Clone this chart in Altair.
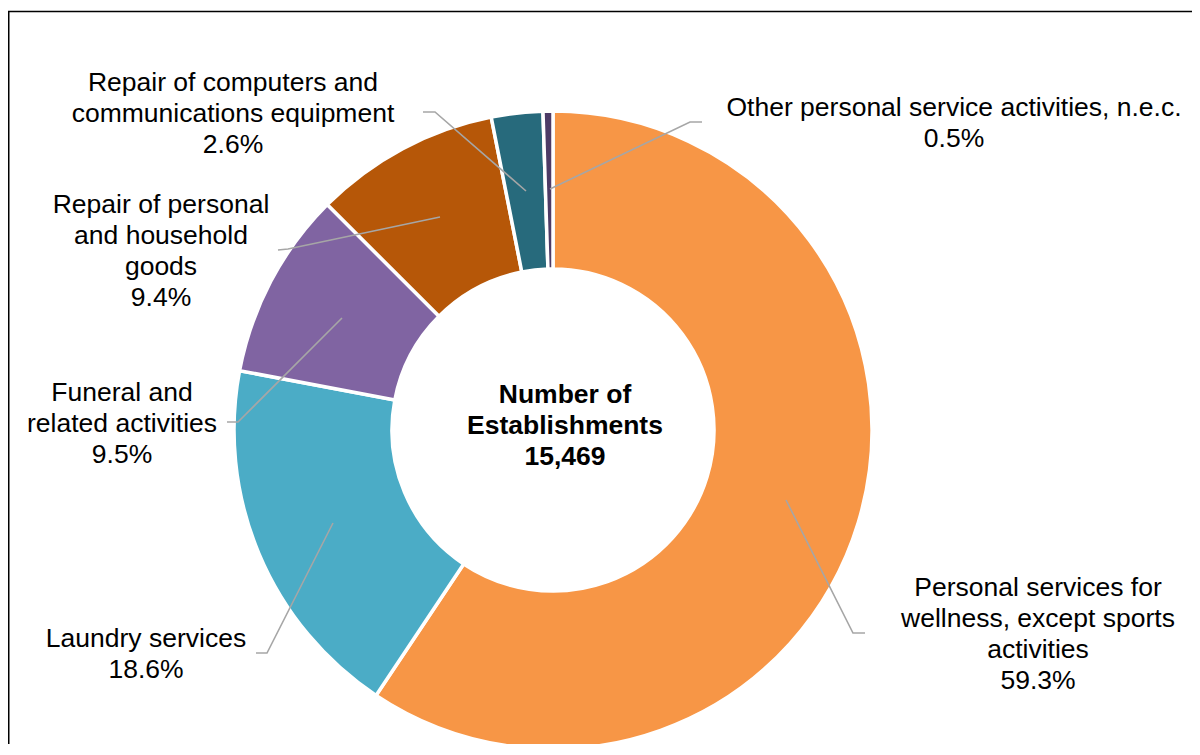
import altair as alt
import pandas as pd

# ---- data ----
categories = [
    "Personal services for wellness, except sports activities",
    "Laundry services",
    "Funeral and related activities",
    "Repair of personal and household goods",
    "Repair of computers and communications equipment",
    "Other personal service activities, n.e.c.",
]
shares = [59.3, 18.6, 9.5, 9.4, 2.6, 0.5]
colors = ["#F79646", "#4BACC6", "#8064A2", "#B65708", "#276A7C", "#4D3B66"]
total_establishments = 15469

# wrapped label names (layout only)
wrapped = [
    "Personal services for\nwellness, except sports\nactivities",
    "Laundry services",
    "Funeral and\nrelated activities",
    "Repair of personal\nand household\ngoods",
    "Repair of computers and\ncommunications equipment",
    "Other personal service activities, n.e.c.",
]
# label first-line centres (chart pixel coords)
label_x = [1030, 138, 114, 153, 225, 946]
label_y = [580, 631, 385, 197, 75, 100]
# leader lines: three points each (chart pixel coords)
leader_pts = [
    [(857, 625), (845, 625), (778, 492)],
    [(248, 645), (259, 645), (325, 515)],
    [(219, 414), (230, 414), (334, 310)],
    [(270, 242), (280, 241), (432, 209)],
    [(415, 104), (427, 104), (518, 183)],
    [(694, 114), (682, 114), (542, 181)],
]

CX, CY = 545, 422
FONT = "Liberation Sans"

pie_df = pd.DataFrame({"category": categories, "share": shares, "order": list(range(len(shares)))})

arcs = alt.Chart(pie_df).mark_arc(
    radius=319, radius2=161, stroke="white", strokeWidth=3.5
).encode(
    theta=alt.Theta("share:Q", stack=True),
    order=alt.Order("order:Q"),
    color=alt.Color("category:N", scale=alt.Scale(domain=categories, range=colors), legend=None),
    x=alt.value(CX),
    y=alt.value(CY),
)

lab_df = pd.DataFrame({
    "text": [f"{w}\n{s}%" for w, s in zip(wrapped, shares)],
    "x": label_x,
    "y": label_y,
})
labels = alt.Chart(lab_df).mark_text(
    font=FONT, fontSize=26.5, lineHeight=31, lineBreak="\n", align="center", baseline="middle", color="#000000"
).encode(
    x=alt.X("x:Q", scale=None),
    y=alt.Y("y:Q", scale=None),
    text="text:N",
)

rows = []
for i, pts in enumerate(leader_pts):
    for j, (px, py) in enumerate(pts):
        rows.append({"id": i, "k": j, "x": px, "y": py})
lines = alt.Chart(pd.DataFrame(rows)).mark_line(color="#A6A6A6", strokeWidth=1.6).encode(
    x=alt.X("x:Q", scale=None),
    y=alt.Y("y:Q", scale=None),
    detail="id:N",
    order="k:Q",
)

center_df = pd.DataFrame({"text": [f"Number of\nEstablishments\n{total_establishments:,}"], "x": [557], "y": [387]})
center = alt.Chart(center_df).mark_text(
    font=FONT, fontSize=26.5, fontWeight="bold", lineHeight=31, lineBreak="\n", align="center", baseline="middle", color="#000000"
).encode(
    x=alt.X("x:Q", scale=None),
    y=alt.Y("y:Q", scale=None),
    text="text:N",
)

frame = alt.Chart(pd.DataFrame({"a": [0]})).mark_rect(
    fill="transparent", stroke="#000000", strokeWidth=1.5
).encode(
    x=alt.value(0.75), x2=alt.value(1300), y=alt.value(3.5), y2=alt.value(900)
)

chart = alt.layer(frame, arcs, lines, labels, center).properties(
    width=1184, height=736, padding=0,
    autosize=alt.AutoSizeParams(type="none"),
).configure_view(stroke=None)

chart.save("out.html", embed_options={"renderer": "svg", "actions": False})
